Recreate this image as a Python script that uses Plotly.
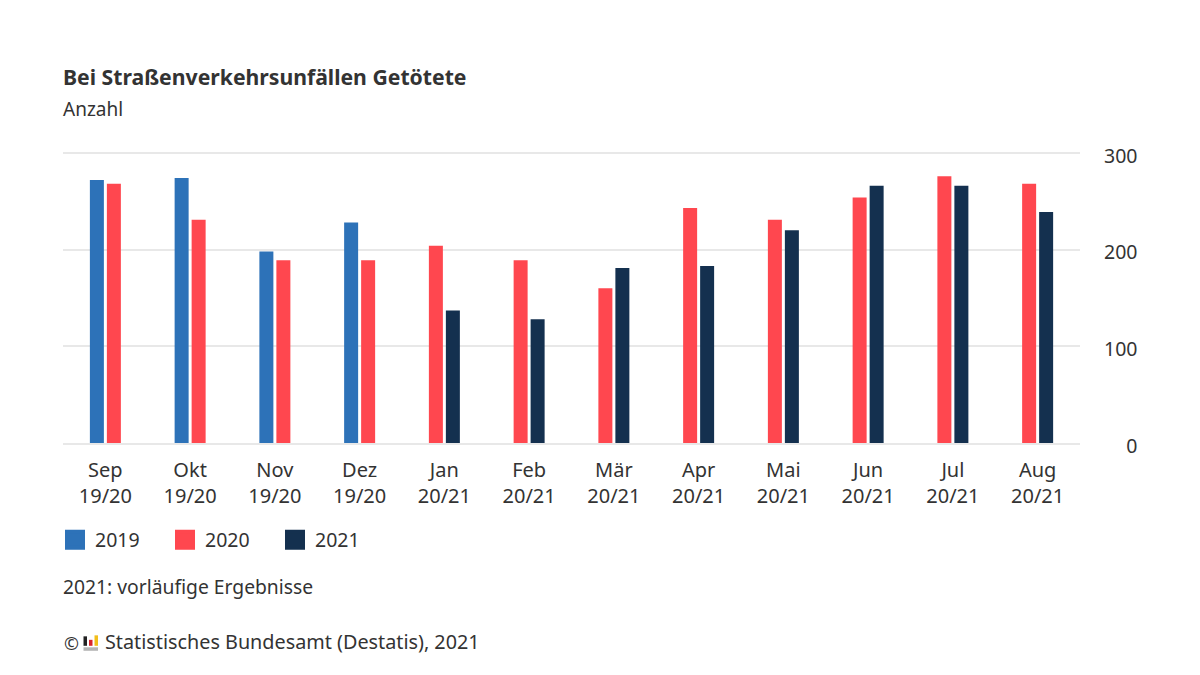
import plotly.graph_objects as go

months = ["Sep", "Okt", "Nov", "Dez", "Jan", "Feb", "Mär", "Apr", "Mai", "Jun", "Jul", "Aug"]
periods = ["19/20"] * 4 + ["20/21"] * 8
categories = [f"{m}<br>{p}" for m, p in zip(months, periods)]
v2019 = [272, 274, 198, 228, None, None, None, None, None, None, None, None]
v2020 = [268, 231, 189, 189, 204, 189, 160, 243, 231, 254, 276, 268]
v2021 = [None, None, None, None, 137, 128, 181, 183, 220, 266, 266, 239]
y_ticks = [0, 100, 200, 300]
y_tick_labels = ["\u2007\u20070", "100", "200", "300"]

C2019, C2020, C2021 = "#2D72B8", "#FF474F", "#14304F"
TEXT = "#333333"
GRID = "#E8E8E8"
FONT = "Noto Sans"
W, H = 1200, 675
L, R, T, B = 63, 1080, 150.5, 443.5
Y_MAX = 302
bar_w = 14 / ((R - L) / 12)
gap = 3 / ((R - L) / 12)
left = -bar_w - gap / 2
right = gap / 2


def pxa(x):
    return (x - L) / (R - L)


def pya(y):
    return (B - y) / (B - T)


fig = go.Figure()
for name, vals, col, off in [
    ("2019", v2019, C2019, [left] * 12),
    ("2020", v2020, C2020, [right if a is not None else left for a in v2019]),
    ("2021", v2021, C2021, [right] * 12),
]:
    fig.add_bar(x=categories, y=vals, name=name, legendgroup=name, showlegend=False,
                width=bar_w, offset=off, marker=dict(color=col, line=dict(width=0)))
    fig.add_scatter(x=[None], y=[None], name=name, legendgroup=name, mode="markers",
                    marker=dict(symbol="square", size=16, color=col, line=dict(width=4, color=col)))


def note(text, x, y, size):
    return dict(text=text, x=pxa(x), y=pya(y), xref="paper", yref="paper", xanchor="left", yanchor="middle",
                showarrow=False, borderpad=0, borderwidth=0, font=dict(size=size, color=TEXT))


fig.update_layout(
    width=W, height=H, autosize=False,
    margin=dict(l=L, r=W - R, t=T, b=H - B, pad=0),
    paper_bgcolor="white", plot_bgcolor="white",
    font=dict(family=FONT, size=19, color=TEXT),
    barmode="overlay",
    title=dict(text="<b>Bei Straßenverkehrsunfällen Getötete</b>", x=63 / W, xanchor="left",
               xref="container", y=1 - 78 / H, yref="container", yanchor="middle",
               font=dict(size=21.2, color=TEXT)),
    legend=dict(orientation="h", x=pxa(55), xanchor="left", y=pya(541), yanchor="middle",
                xref="paper", yref="paper", entrywidth=65, entrywidthmode="pixels",
                itemclick=False, itemdoubleclick=False, font=dict(size=19.5, color=TEXT),
                traceorder="normal", bgcolor="rgba(0,0,0,0)"),
    xaxis=dict(type="category", categoryorder="array", categoryarray=categories, range=[-0.5, 11.5],
               showgrid=False, showline=True, linecolor=GRID, linewidth=1.5, ticks="",
               ticklabelstandoff=8, tickfont=dict(size=20, color=TEXT), tickangle=0, fixedrange=True),
    yaxis=dict(side="right", range=[0, Y_MAX], tickvals=y_ticks, ticktext=y_tick_labels,
               showgrid=True, gridcolor=GRID, gridwidth=1.5, zeroline=False, ticks="",
               ticklabelstandoff=23, ticklabelshift=3, tickfont=dict(size=19.5, color=TEXT), fixedrange=True),
    annotations=[
        note("Anzahl", 63, 108, 19),
        note("2021: vorläufige Ergebnisse", 63, 587, 19.3),
        note("©", 64, 644, 18),
        note("Statistisches Bundesamt (Destatis), 2021", 105, 643, 19.8),
    ],
)


def logo_rect(x0, y0, x1, y1, color):
    fig.add_shape(type="rect", xref="paper", yref="paper", x0=pxa(x0), x1=pxa(x1), y0=pya(y1), y1=pya(y0),
                  fillcolor=color, line_width=0, layer="above")


logo_rect(83.5, 637.5, 87, 647, "#222222")
logo_rect(89, 641, 92.5, 647, "#D9242B")
logo_rect(94.5, 636.5, 98, 647, "#F2BE1A")
logo_rect(83.5, 648.5, 98, 652, "#B5B5B5")

fig.write_html("out.html", config=dict(displayModeBar=False),
               post_script="document.body.style.margin='0';")
